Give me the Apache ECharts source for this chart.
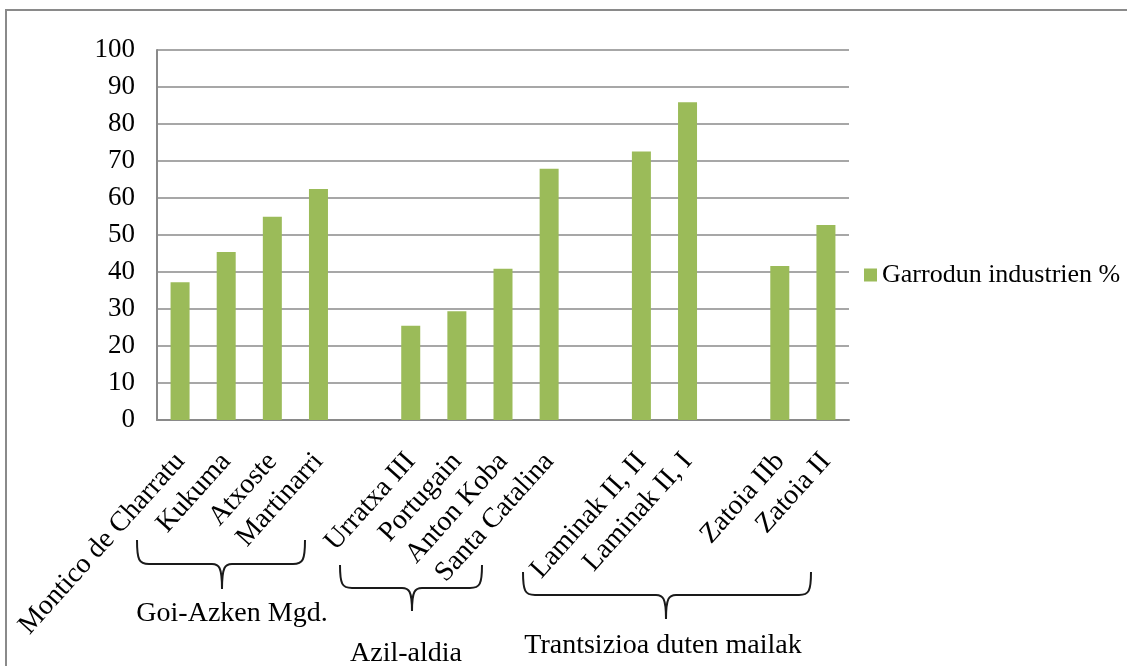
<!DOCTYPE html>
<html>
<head>
<meta charset="utf-8">
<script src="https://cdn.jsdelivr.net/npm/echarts@6/dist/echarts.min.js"></script>
<style>
html,body{margin:0;padding:0;background:#fff;}
#c{width:1127px;height:666px;}
</style>
</head>
<body>
<div id="c"></div>
<script>
// Data
var categories = ['Montico de Charratu','Kukuma','Atxoste','Martinarri','',
  'Urratxa III','Portugain','Anton Koba','Santa Catalina','',
  'Laminak II, II','Laminak II, I','',
  'Zatoia IIb','Zatoia II'];
var values = [37.2, 45.4, 54.9, 62.4, null,
  25.5, 29.4, 40.9, 67.9, null,
  72.6, 85.9, null,
  41.6, 52.7];
var seriesName = 'Garrodun industrien %';
var yTicks = {min: 0, max: 100, interval: 10};
var groupLabels = ['Goi-Azken Mgd.', 'Azil-aldia', 'Trantsizioa duten mailak'];

var FONT = "'Liberation Serif','Times New Roman',serif";

var braceLayout = [
  {x0: 137, x1: 305, xm: 222, yTop: 540, yH: 564, yTip: 589, tx: 232, ty: 614},
  {x0: 340, x1: 482, xm: 412, yTop: 565, yH: 588, yTip: 611, tx: 406, ty: 654},
  {x0: 523, x1: 811, xm: 666, yTop: 572, yH: 595, yTip: 619, tx: 663, ty: 646}
];

var lineStyleBrace = {fill: 'none', stroke: '#1a1a1a', lineWidth: 2};
function braceElements(b) {
  var r = 12, t = 10;
  var els = [];
  function bez(x1, y1, c1x, c1y, c2x, c2y, x2, y2) {
    els.push({type: 'bezierCurve', silent: true,
      shape: {x1: x1, y1: y1, cpx1: c1x, cpy1: c1y, cpx2: c2x, cpy2: c2y, x2: x2, y2: y2},
      style: lineStyleBrace});
  }
  function ln(x1, y1, x2, y2) {
    els.push({type: 'line', silent: true,
      shape: {x1: x1, y1: y1, x2: x2, y2: y2}, style: lineStyleBrace});
  }
  bez(b.x0, b.yTop, b.x0, b.yH - 4, b.x0 + 2, b.yH, b.x0 + r, b.yH);
  ln(b.x0 + r, b.yH, b.xm - t, b.yH);
  bez(b.xm - t, b.yH, b.xm - 3, b.yH, b.xm, b.yH + 3, b.xm, b.yTip);
  bez(b.xm, b.yTip, b.xm, b.yH + 3, b.xm + 3, b.yH, b.xm + t, b.yH);
  ln(b.xm + t, b.yH, b.x1 - r, b.yH);
  bez(b.x1 - r, b.yH, b.x1 - 2, b.yH, b.x1, b.yH - 4, b.x1, b.yTop);
  return els;
}

var graphics = [{
  type: 'rect', silent: true,
  shape: {x: 6, y: 10, width: 1140, height: 680},
  style: {fill: 'none', stroke: '#8a8a8a', lineWidth: 2}
}];
braceLayout.forEach(function (b, i) {
  graphics = graphics.concat(braceElements(b));
  graphics.push({
    type: 'text', silent: true, x: b.tx, y: b.ty,
    style: {text: groupLabels[i], fontFamily: FONT, fontSize: 28, fill: '#000',
      align: 'center', verticalAlign: 'middle'}
  });
});

var chart = echarts.init(document.getElementById('c'));
chart.setOption({
  animation: false,
  backgroundColor: '#fff',
  textStyle: {fontFamily: FONT},
  grid: {left: 157, right: 278, top: 50, bottom: 246, containLabel: false},
  legend: {
    left: 859, top: 257, itemWidth: 13, itemHeight: 13,
    icon: 'rect',
    textStyle: {fontFamily: FONT, fontSize: 26, color: '#000'},
    data: [seriesName]
  },
  xAxis: {
    type: 'category',
    data: categories,
    axisLine: {lineStyle: {color: '#8a8a8a', width: 2}},
    axisTick: {show: false},
    axisLabel: {rotate: 48, interval: 0, margin: 37, fontFamily: FONT, fontSize: 28, color: '#000'}
  },
  yAxis: {
    type: 'value',
    min: yTicks.min, max: yTicks.max, interval: yTicks.interval,
    axisLine: {show: true, lineStyle: {color: '#8a8a8a', width: 2}},
    axisTick: {show: false},
    splitLine: {lineStyle: {color: '#8a8a8a', width: 1.5}},
    axisLabel: {margin: 22, fontFamily: FONT, fontSize: 27, color: '#000'}
  },
  series: [{
    name: seriesName,
    type: 'bar',
    data: values,
    barWidth: 19,
    itemStyle: {color: '#9bbb59'}
  }],
  graphic: graphics
});
</script>
</body>
</html>
